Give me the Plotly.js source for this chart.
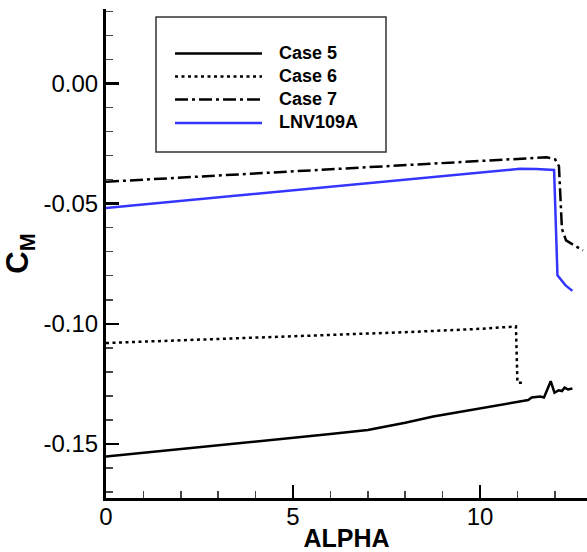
<!DOCTYPE html>
<html>
<head>
<meta charset="utf-8">
<script src="https://cdn.plot.ly/plotly-3.0.1.min.js"></script>
<style>html,body{margin:0;padding:0;background:#fff;}#chart{width:587px;height:552px;}</style>
</head>
<body>
<div id="chart"></div>
<script>
// ---- data ----
var seriesNames = ["Case 5", "Case 6", "Case 7", "LNV109A"];

var alphaCase5 = [0, 2, 4, 6, 7, 8, 8.75, 9.5, 10.5, 11.29, 11.38, 11.61, 11.71, 11.89, 11.99, 12.10, 12.19, 12.26, 12.35, 12.47];
var cmCase5    = [-0.1552, -0.1522, -0.1490, -0.1459, -0.1442, -0.1412, -0.1386, -0.1366, -0.1340, -0.1317, -0.1307, -0.1303, -0.1307, -0.1239, -0.1287, -0.1277, -0.1280, -0.1266, -0.1273, -0.1269];

var alphaCase6 = [0, 2, 4, 6, 8, 10, 10.96, 11.0, 11.2];
var cmCase6    = [-0.1080, -0.1069, -0.1058, -0.1047, -0.1035, -0.1021, -0.1011, -0.1245, -0.1245];

var alphaCase7 = [0, 2, 4, 6, 8, 10, 11, 11.79, 12.01, 12.11, 12.19, 12.30, 12.75];
var cmCase7    = [-0.0409, -0.0392, -0.0374, -0.0357, -0.0340, -0.0322, -0.0313, -0.0307, -0.0316, -0.0344, -0.0605, -0.0653, -0.0695];

var alphaLNV = [0, 2, 4, 6, 8, 10, 11.07, 11.5, 11.98, 12.07, 12.28, 12.47];
var cmLNV    = [-0.0518, -0.0489, -0.0460, -0.0430, -0.0401, -0.0372, -0.0355, -0.0356, -0.0360, -0.0798, -0.0839, -0.0863];

var xTickVals = [0, 5, 10];
var xTickText = ["0", "5", "10"];
var yTickVals = [0, -0.05, -0.10, -0.15];
var yTickText = ["0.00", "-0.05", "-0.10", "-0.15"];

// ---- styles ----
var FONT = "Arial, 'Liberation Sans', Helvetica, sans-serif";
var styles = [
  {color: "#000000", dash: "solid", width: 2.5},
  {color: "#000000", dash: "3px,3.5px", width: 2.5},
  {color: "#000000", dash: "13px,4px,3px,4px", width: 2.5},
  {color: "#3535ff", dash: "solid", width: 2.5}
];
var xs = [alphaCase5, alphaCase6, alphaCase7, alphaLNV];
var ys = [cmCase5, cmCase6, cmCase7, cmLNV];

var traces = [];
for (var i = 0; i < seriesNames.length; i++) {
  traces.push({
    x: xs[i], y: ys[i], name: seriesNames[i], type: "scatter", mode: "lines",
    line: {color: styles[i].color, dash: styles[i].dash, width: styles[i].width},
    showlegend: false, hoverinfo: "skip"
  });
}

// plot geometry (pixels)
var W = 587, H = 552;
var M = {l: 106, r: 0, t: 9, b: 54};
var PW = W - M.l - M.r, PH = H - M.t - M.b;
function px(x) { return (x - M.l) / PW; }
function py(y) { return (H - M.b - y) / PH; }

// custom legend (box, samples, labels)
var shapes = [{
  type: "rect", xref: "paper", yref: "paper",
  x0: px(156), x1: px(386), y0: py(152), y1: py(17),
  line: {color: "#333333", width: 1.5}, fillcolor: "rgba(255,255,255,1)", layer: "below"
}];
var annotations = [];
var rowY = [53.5, 76.5, 99.5, 123];
for (var k = 0; k < seriesNames.length; k++) {
  shapes.push({
    type: "line", xref: "paper", yref: "paper",
    x0: px(175), x1: px(262), y0: py(rowY[k]), y1: py(rowY[k]),
    line: {color: styles[k].color, dash: styles[k].dash, width: styles[k].width}
  });
  annotations.push({
    xref: "paper", yref: "paper", x: px(277), y: py(rowY[k] - 1),
    xanchor: "left", yanchor: "middle", showarrow: false,
    text: "<b>" + seriesNames[k] + "</b>",
    font: {family: FONT, size: 18, color: "#000"}
  });
}

var layout = {
  width: W, height: H,
  margin: M,
  paper_bgcolor: "#fff", plot_bgcolor: "rgba(0,0,0,0)",
  showlegend: false,
  font: {family: FONT, color: "#000"},
  xaxis: {
    range: [0, 12.86], tickmode: "array", tickvals: xTickVals, ticktext: xTickText,
    ticks: "inside", ticklen: 13, tickwidth: 2.5, tickcolor: "#000",
    ticklabelstandoff: -5,
    minor: {tickmode: "linear", tick0: 0, dtick: 1, ticks: "inside", ticklen: 7, tickwidth: 1.5, tickcolor: "#444", showgrid: false},
    showline: true, linewidth: 3, linecolor: "#000", mirror: false,
    showgrid: false, zeroline: false,
    tickfont: {family: FONT, size: 24, color: "#000"},
    title: {text: "<b>ALPHA</b>", font: {family: FONT, size: 25, color: "#000"}, standoff: 2},
    automargin: false
  },
  yaxis: {
    range: [-0.1725, 0.031], tickmode: "array", tickvals: yTickVals, ticktext: yTickText,
    ticks: "inside", ticklen: 13, tickwidth: 2.5, tickcolor: "#000",
    minor: {tickmode: "linear", tick0: 0, dtick: 0.01, ticks: "inside", ticklen: 7, tickwidth: 1.5, tickcolor: "#444", showgrid: false},
    showline: true, linewidth: 3, linecolor: "#000", mirror: false,
    showgrid: false, zeroline: false,
    tickfont: {family: FONT, size: 24, color: "#000"},
    title: {text: "<b>C<sub>M</sub></b>", font: {family: FONT, size: 31, color: "#000"}, standoff: 6},
    automargin: false
  },
  shapes: shapes,
  annotations: annotations
};

Plotly.newPlot("chart", traces, layout, {staticPlot: true, displayModeBar: false});
</script>
</body>
</html>
